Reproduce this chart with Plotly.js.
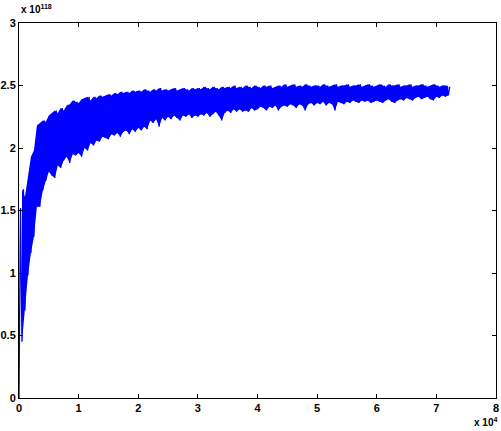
<!DOCTYPE html>
<html>
<head>
<meta charset="utf-8">
<script src="https://cdn.plot.ly/plotly-3.0.1.min.js"></script>
<style>
  html, body { margin: 0; padding: 0; background: #fff; }
  #chart { width: 501px; height: 431px; }
</style>
</head>
<body>
<div id="chart"></div>
<script>
// Envelope of the signal, one pair every 0.05 ×10^4 samples (x: ×10^4, y: ×10^118)
const sampleStart = 0;
const sampleStep = 0.05;
const lowValues = [
  0.00,0.45,0.70,0.98,1.16,1.29,1.53,1.53,1.66,1.74,
  1.81,1.78,1.76,1.86,1.84,1.90,1.93,1.88,1.95,1.94,
  1.96,1.93,2.00,1.98,2.04,2.02,2.06,2.05,2.09,2.08,
  2.07,2.11,2.10,2.12,2.09,2.13,2.14,2.11,2.15,2.13,
  2.16,2.14,2.17,2.15,2.22,2.20,2.23,2.17,2.24,2.22,
  2.25,2.23,2.26,2.24,2.22,2.26,2.25,2.27,2.24,2.26,
  2.25,2.27,2.26,2.28,2.25,2.27,2.29,2.26,2.22,2.28,
  2.30,2.28,2.31,2.29,2.31,2.29,2.30,2.29,2.32,2.30,
  2.31,2.33,2.32,2.30,2.33,2.32,2.34,2.30,2.33,2.34,
  2.33,2.35,2.34,2.32,2.35,2.34,2.30,2.35,2.36,2.34,
  2.36,2.35,2.37,2.34,2.36,2.35,2.30,2.37,2.36,2.35,
  2.37,2.36,2.38,2.37,2.36,2.38,2.37,2.38,2.36,2.37,
  2.38,2.37,2.36,2.38,2.39,2.37,2.36,2.38,2.39,2.38,
  2.40,2.39,2.38,2.40,2.41,2.39,2.40,2.41,2.39,2.38,
  2.41,2.40,2.42,2.41,2.42
];
const highValues = [
  1.52,1.67,1.61,1.77,1.93,1.98,2.18,2.20,2.22,2.21,
  2.26,2.28,2.30,2.28,2.32,2.30,2.34,2.35,2.38,2.37,
  2.36,2.39,2.40,2.41,2.38,2.41,2.40,2.42,2.41,2.42,
  2.43,2.42,2.44,2.43,2.45,2.44,2.45,2.44,2.46,2.45,
  2.46,2.45,2.47,2.46,2.45,2.47,2.46,2.48,2.46,2.47,
  2.46,2.47,2.48,2.46,2.47,2.48,2.47,2.46,2.48,2.47,
  2.48,2.47,2.49,2.48,2.47,2.49,2.48,2.47,2.49,2.48,
  2.49,2.48,2.50,2.48,2.49,2.48,2.50,2.49,2.48,2.50,
  2.49,2.48,2.50,2.49,2.50,2.48,2.49,2.50,2.49,2.51,
  2.49,2.50,2.51,2.49,2.50,2.49,2.51,2.50,2.49,2.50,
  2.50,2.49,2.51,2.50,2.49,2.50,2.51,2.49,2.50,2.50,
  2.51,2.49,2.50,2.50,2.51,2.49,2.50,2.51,2.50,2.49,
  2.50,2.51,2.50,2.49,2.51,2.50,2.50,2.51,2.49,2.50,
  2.50,2.51,2.49,2.50,2.50,2.51,2.50,2.49,2.50,2.51,
  2.50,2.49,2.50,2.50,2.49
];
const xTickValues = [0,1,2,3,4,5,6,7,8];
const xTickLabels = ['0','1','2','3','4','5','6','7','8'];
const yTickValues = [0,0.5,1,1.5,2,2.5,3];
const yTickLabels = ['0','0.5','1','1.5','2','2.5','3'];
const xExponent = '4';
const yExponent = '118';

const lineColor = '#0000ff';
const xs = [], ys = [], xe = [];
for (let i = 0; i < lowValues.length; i++) {
  const x0 = sampleStart + i * sampleStep;
  xe.push(x0);
  xs.push(x0); ys.push(lowValues[i]);
  xs.push(x0 + sampleStep / 2); ys.push(highValues[i]);
}

const tickFont = {family: 'Liberation Sans, Arial, Helvetica, sans-serif', size: 11, color: '#000', weight: 'bold'};
const axisCommon = {
  showline: true, linecolor: '#000', linewidth: 1, mirror: 'ticks',
  ticks: 'inside', ticklen: 4, tickwidth: 1, tickcolor: '#000',
  showgrid: false, zeroline: false, tickfont: tickFont, automargin: false
};

const data = [
  {type: 'scatter', mode: 'lines', x: xe.slice(1), y: lowValues.slice(1), line: {width: 0, color: lineColor}, hoverinfo: 'skip'},
  {type: 'scatter', mode: 'lines', x: xe.slice(1), y: highValues.slice(1), fill: 'tonexty', fillcolor: lineColor,
   line: {width: 0, color: lineColor}, hoverinfo: 'skip'},
  {type: 'scatter', mode: 'lines', x: xs, y: ys, line: {color: lineColor, width: 1.3}, hoverinfo: 'skip'}
];

const layout = {
  width: 501, height: 431,
  margin: {l: 19, r: 5, t: 23, b: 33},
  paper_bgcolor: '#fff', plot_bgcolor: '#fff',
  showlegend: false,
  xaxis: Object.assign({}, axisCommon, {range: [0, 8], tickvals: xTickValues, ticktext: xTickLabels}),
  yaxis: Object.assign({}, axisCommon, {range: [0, 3], tickvals: yTickValues, ticktext: yTickLabels}),
  annotations: [
    {xref: 'paper', yref: 'paper', x: 0, y: 1, xanchor: 'left', yanchor: 'bottom', yshift: 6,
     showarrow: false, text: 'x 10<sup>' + yExponent + '</sup>',
     font: {family: 'Liberation Sans, Arial, sans-serif', size: 10, color: '#000', weight: 'bold'}},
    {xref: 'paper', yref: 'paper', x: 1, y: 0, xanchor: 'right', yanchor: 'top', yshift: -16, xshift: 3,
     showarrow: false, text: 'x 10<sup>' + xExponent + '</sup>',
     font: {family: 'Liberation Sans, Arial, sans-serif', size: 10, color: '#000', weight: 'bold'}}
  ]
};

Plotly.newPlot('chart', data, layout, {staticPlot: true, displayModeBar: false});
</script>
</body>
</html>
